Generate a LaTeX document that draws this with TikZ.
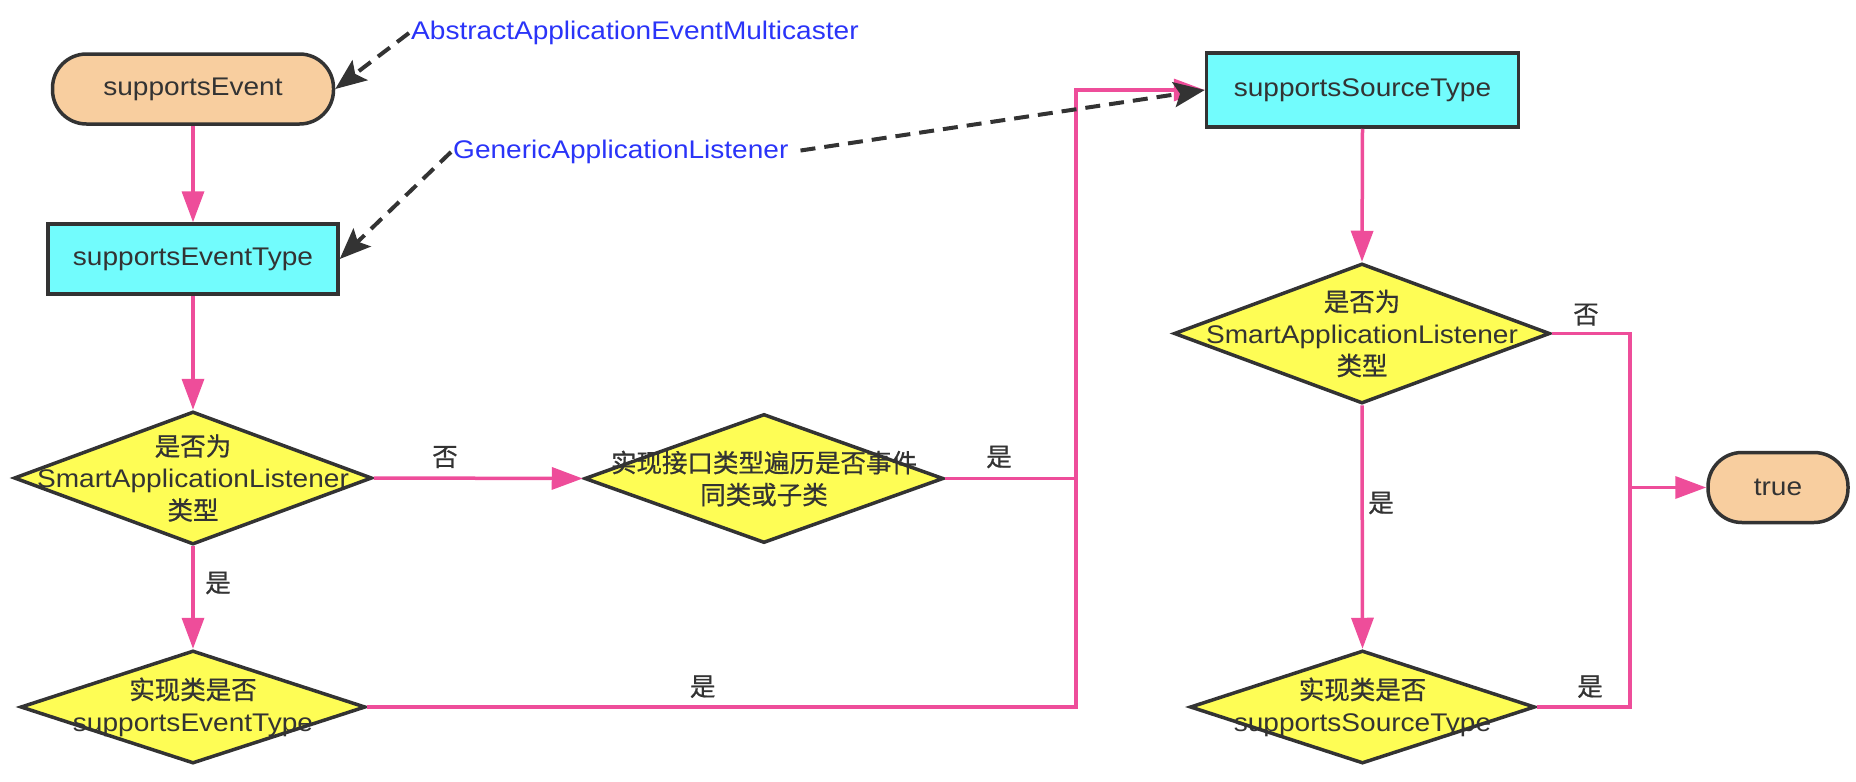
\documentclass[tikz,border=0pt]{standalone}
\usepackage{fontspec}
\setmainfont{Liberation Sans}[FakeStretch=1.1]
\newfontfamily\cjk{Noto Sans CJK SC}[FakeBold=0.6]
\usetikzlibrary{arrows.meta,shapes.geometric,calc}
\definecolor{pk}{HTML}{EE4D9A}
\definecolor{dk}{HTML}{333333}
\definecolor{peach}{HTML}{F8CE9F}
\definecolor{cyanbox}{HTML}{72FCFD}
\definecolor{yel}{HTML}{FEFD55}
\definecolor{bluetxt}{RGB}{42,52,248}
\tikzset{
  txtfont/.style={font=\fontsize{25.5}{32}\selectfont, text=dk},
  termbox/.style={txtfont, draw=dk, line width=3.5pt, fill=peach, rounded corners=34pt, inner sep=0pt},
  procbox/.style={txtfont, draw=dk, line width=3.5pt, fill=cyanbox, inner sep=0pt},
  decbox/.style={draw=dk, line width=3.5pt, fill=yel, diamond, inner sep=0pt},
  dectext/.style={txtfont, align=center, inner sep=0pt},
  flowline/.style={draw=pk, line width=3.5pt},
  flowarrow/.style={flowline, -{Triangle[length=31pt,width=22pt]}},
  noteline/.style={draw=dk, line width=4pt, dash pattern=on 15pt off 9pt, -{Stealth[length=31pt,width=25pt,inset=6pt]}},
  notetext/.style={font=\fontsize{25.5}{32}\selectfont, text=bluetxt, inner sep=2pt},
  edgelabel/.style={txtfont, inner sep=0pt}
}
\begin{document}
\begin{tikzpicture}[x=1pt,y=-1pt]
\useasboundingbox (0,0) rectangle (1856,782);

% nodes
\node[termbox, minimum width=281pt, minimum height=70pt] (se) at (193,89) {supportsEvent};
\node[procbox, minimum width=290pt, minimum height=70pt] (set) at (193,259) {supportsEventType};
\node[procbox, minimum width=312pt, minimum height=74pt] (sst) at (1362.5,90) {supportsSourceType};
\node[termbox, minimum width=140pt, minimum height=70pt] (tr) at (1778,487.5) {true};

\node[decbox, minimum width=358pt, minimum height=133pt] (d1) at (193,478) {};
\node[decbox, minimum width=359pt, minimum height=129pt] (d2) at (764,478.5) {};
\node[decbox, minimum width=345pt, minimum height=113pt] (d3) at (193,707) {};
\node[decbox, minimum width=376pt, minimum height=140pt] (d4) at (1362,333.5) {};
\node[decbox, minimum width=345pt, minimum height=113pt] (d5) at (1362.5,707) {};

\node[dectext] (d1t) at (d1.center) {{\cjk 是否为}\\SmartApplicationListener\\{\cjk 类型}};
\node[dectext] (d2t) at (d2.center) {{\cjk 实现接口类型遍历是否事件}\\{\cjk 同类或子类}};
\node[dectext] (d3t) at (d3.center) {{\cjk 实现类是否}\\supportsEventType};
\node[dectext] (d4t) at (d4.center) {{\cjk 是否为}\\SmartApplicationListener\\{\cjk 类型}};
\node[dectext] (d5t) at (d5.center) {{\cjk 实现类是否}\\supportsSourceType};

\node[notetext, anchor=west] (abs) at (409,33) {AbstractApplicationEventMulticaster};
\node[notetext, anchor=west] (gen) at (451,152) {GenericApplicationListener};

\coordinate (jx) at (1076,0);
\coordinate (jr) at (1630,0);

% flow connectors
\draw[flowarrow] (se.south) -- (set.north);
\draw[flowarrow] (set.south) -- (d1.north);
\draw[flowarrow] (d1.east) -- (d2.west);
\draw[flowarrow] (d1.south) -- (d3.north);
\draw[flowline] (d2.east) -- (jx |- d2.east);
\draw[flowarrow] (d3.east) -| (jx |- sst.west) -- (sst.west);
\draw[flowarrow] (sst.south) -- (d4.north);
\draw[flowarrow] (d4.south) -- (d5.north);
\draw[flowline] (d4.east) -| (jr |- tr.west);
\draw[flowline] (d5.east) -| (jr |- tr.west);
\draw[flowarrow] (jr |- tr.west) -- (tr.west);

% edge labels
\node[edgelabel] (l1) at (445,457) {\cjk 否};
\node[edgelabel] (l2) at (218,583) {\cjk 是};
\node[edgelabel] (l3) at (702.7,686.7) {\cjk 是};
\node[edgelabel] (l4) at (999,457) {\cjk 是};
\node[edgelabel] (l5) at (1586,314.6) {\cjk 否};
\node[edgelabel] (l6) at (1381,503) {\cjk 是};
\node[edgelabel] (l7) at (1590,686.7) {\cjk 是};

% note connectors
\draw[noteline] (abs.west) -- (se.east);
\draw[noteline] (gen.west) -- (set.east);
\draw[noteline, shorten <=10pt] (gen.east) -- (sst.west);
\end{tikzpicture}
\end{document}
